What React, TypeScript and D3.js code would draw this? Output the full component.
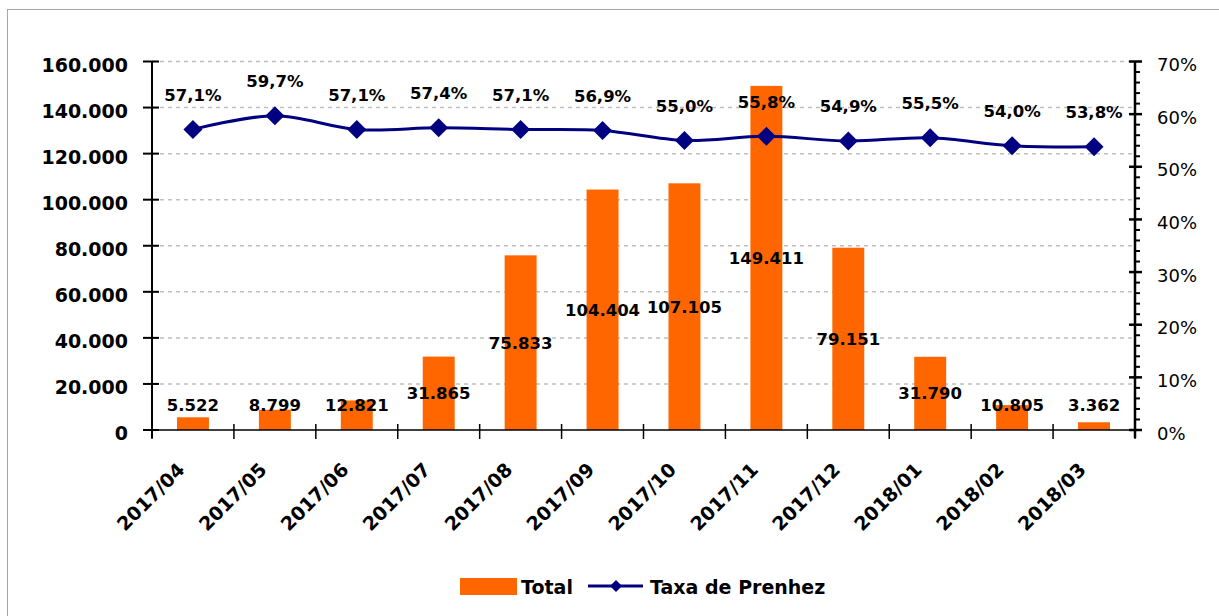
import React from "react";
import * as d3 from "d3";

const categories = ["2017/04","2017/05","2017/06","2017/07","2017/08","2017/09","2017/10","2017/11","2017/12","2018/01","2018/02","2018/03"];
const totals = [5522, 8799, 12821, 31865, 75833, 104404, 107105, 149411, 79151, 31790, 10805, 3362];
const rates = [0.571, 0.597, 0.571, 0.574, 0.571, 0.569, 0.550, 0.558, 0.549, 0.555, 0.540, 0.538];
const leftTicks = [0, 20000, 40000, 60000, 80000, 100000, 120000, 140000, 160000];
const rightTicks = [0, 0.1, 0.2, 0.3, 0.4, 0.5, 0.6, 0.7];
const seriesNames = ["Total", "Taxa de Prenhez"];

const W = 1219, H = 616;
const L = 152, R = 1135, T = 61.5, B = 430;
const ORANGE = "#FF6600", NAVY = "#000080";
const FONT = "'DejaVu Sans', Verdana, sans-serif";

const locale = d3.formatLocale({ decimal: ",", thousands: ".", grouping: [3], currency: ["", ""] });
const fmtInt = locale.format(",");
const fmtPct1 = locale.format(".1%");
const fmtPct0 = locale.format(".0%");

export default function App() {
  const x = d3.scaleBand<string>().domain(categories).range([L, R]).paddingInner(0).paddingOuter(0);
  const yL = d3.scaleLinear().domain([0, 160000]).range([B, T]);
  const yR = d3.scaleLinear().domain([0, 0.7]).range([B, T]);
  const bw = x.bandwidth();
  const barW = bw * 0.39;
  const cx = (c: string) => (x(c) as number) + bw / 2;

  const line = d3.line<number>()
    .x((_, i) => cx(categories[i]))
    .y((d) => yR(d))
    .curve(d3.curveCatmullRom.alpha(0.5));

  const minorR = d3.range(0, 0.7001, 0.02).filter((v) => Math.round(v * 100) % 10 !== 0);
  const diamond = (px: number, py: number, r: number) =>
    `M${px},${py - r}L${px + r},${py}L${px},${py + r}L${px - r},${py}Z`;

  return (
    <svg width={W} height={H} style={{ position: "absolute", left: 0, top: 0 }} fontFamily={FONT}>
      <rect x={0} y={0} width={W} height={H} fill="#fff" />
      <rect x={7.5} y={9.5} width={1400} height={800} fill="none" stroke="#a6a6a6" strokeWidth={1} />

      {/* gridlines */}
      {leftTicks.filter((t) => t > 0).map((t) => (
        <line key={"g" + t} x1={L} x2={R} y1={yL(t)} y2={yL(t)} stroke="#bfbfbf" strokeWidth={1.5} strokeDasharray="4,4" />
      ))}

      {/* bars */}
      {totals.map((v, i) => (
        <rect key={"b" + i} x={cx(categories[i]) - barW / 2} y={yL(v)} width={barW} height={B - yL(v)} fill={ORANGE} />
      ))}

      {/* axes */}
      <line x1={L} x2={L} y1={T} y2={B + 8} stroke="#000" strokeWidth={2} />
      <line x1={R} x2={R} y1={T} y2={B + 8} stroke="#000" strokeWidth={2.5} />
      <line x1={L - 8} x2={R + 6} y1={B} y2={B} stroke="#000" strokeWidth={1.5} />
      {leftTicks.map((t) => (
        <g key={"lt" + t}>
          <line x1={L - 9} x2={L + 7} y1={yL(t)} y2={yL(t)} stroke="#000" strokeWidth={2} />
          <text x={128} y={yL(t) + 10} textAnchor="end" fontSize={19} fontWeight="bold" fill="#000">{fmtInt(t)}</text>
        </g>
      ))}
      {rightTicks.map((t) => (
        <g key={"rt" + t}>
          <line x1={R - 6} x2={R + 7} y1={yR(t)} y2={yR(t)} stroke="#000" strokeWidth={2.5} />
          <text x={1157} y={yR(t) + 9.5} fontSize={18} fill="#000">{fmtPct0(t)}</text>
        </g>
      ))}
      {minorR.map((t) => (
        <line key={"mr" + t} x1={R} x2={R + 5} y1={yR(t)} y2={yR(t)} stroke="#000" strokeWidth={2} />
      ))}
      {categories.concat(["end"]).map((c, i) => {
        const px = i < categories.length ? (x(c) as number) : R;
        return <line key={"xt" + i} x1={px} x2={px} y1={B - 6} y2={B + 9} stroke="#000" strokeWidth={1.5} />;
      })}
      {categories.map((c) => (
        <text key={"xl" + c} transform={`translate(${cx(c) - 7},${471}) rotate(-45)`} textAnchor="end" fontSize={19} fontWeight="bold" fill="#000">{c}</text>
      ))}

      {/* bar labels */}
      {totals.map((v, i) => {
        const mid = Math.min((yL(v) + B) / 2, 405);
        return (
          <text key={"bl" + i} x={cx(categories[i])} y={mid + 6} textAnchor="middle" fontSize={16.5} fontWeight="bold" fill="#000">{fmtInt(v)}</text>
        );
      })}

      {/* line */}
      <path d={line(rates) as string} fill="none" stroke={NAVY} strokeWidth={3} />
      {rates.map((v, i) => (
        <path key={"m" + i} d={diamond(cx(categories[i]), yR(v), 9.5)} fill={NAVY} />
      ))}
      {rates.map((v, i) => (
        <text key={"rl" + i} x={cx(categories[i])} y={yR(v) - 28.5} textAnchor="middle" fontSize={16.5} fontWeight="bold" fill="#000">{fmtPct1(v)}</text>
      ))}

      {/* legend */}
      <rect x={460} y={578} width={57} height={17} fill={ORANGE} />
      <text x={521} y={594} fontSize={19} fontWeight="bold" fill="#000">{seriesNames[0]}</text>
      <line x1={588} x2={643} y1={586} y2={586} stroke={NAVY} strokeWidth={3} />
      <path d={diamond(616, 586, 6)} fill={NAVY} />
      <text x={650} y={594} fontSize={19} fontWeight="bold" fill="#000">{seriesNames[1]}</text>
    </svg>
  );
}
